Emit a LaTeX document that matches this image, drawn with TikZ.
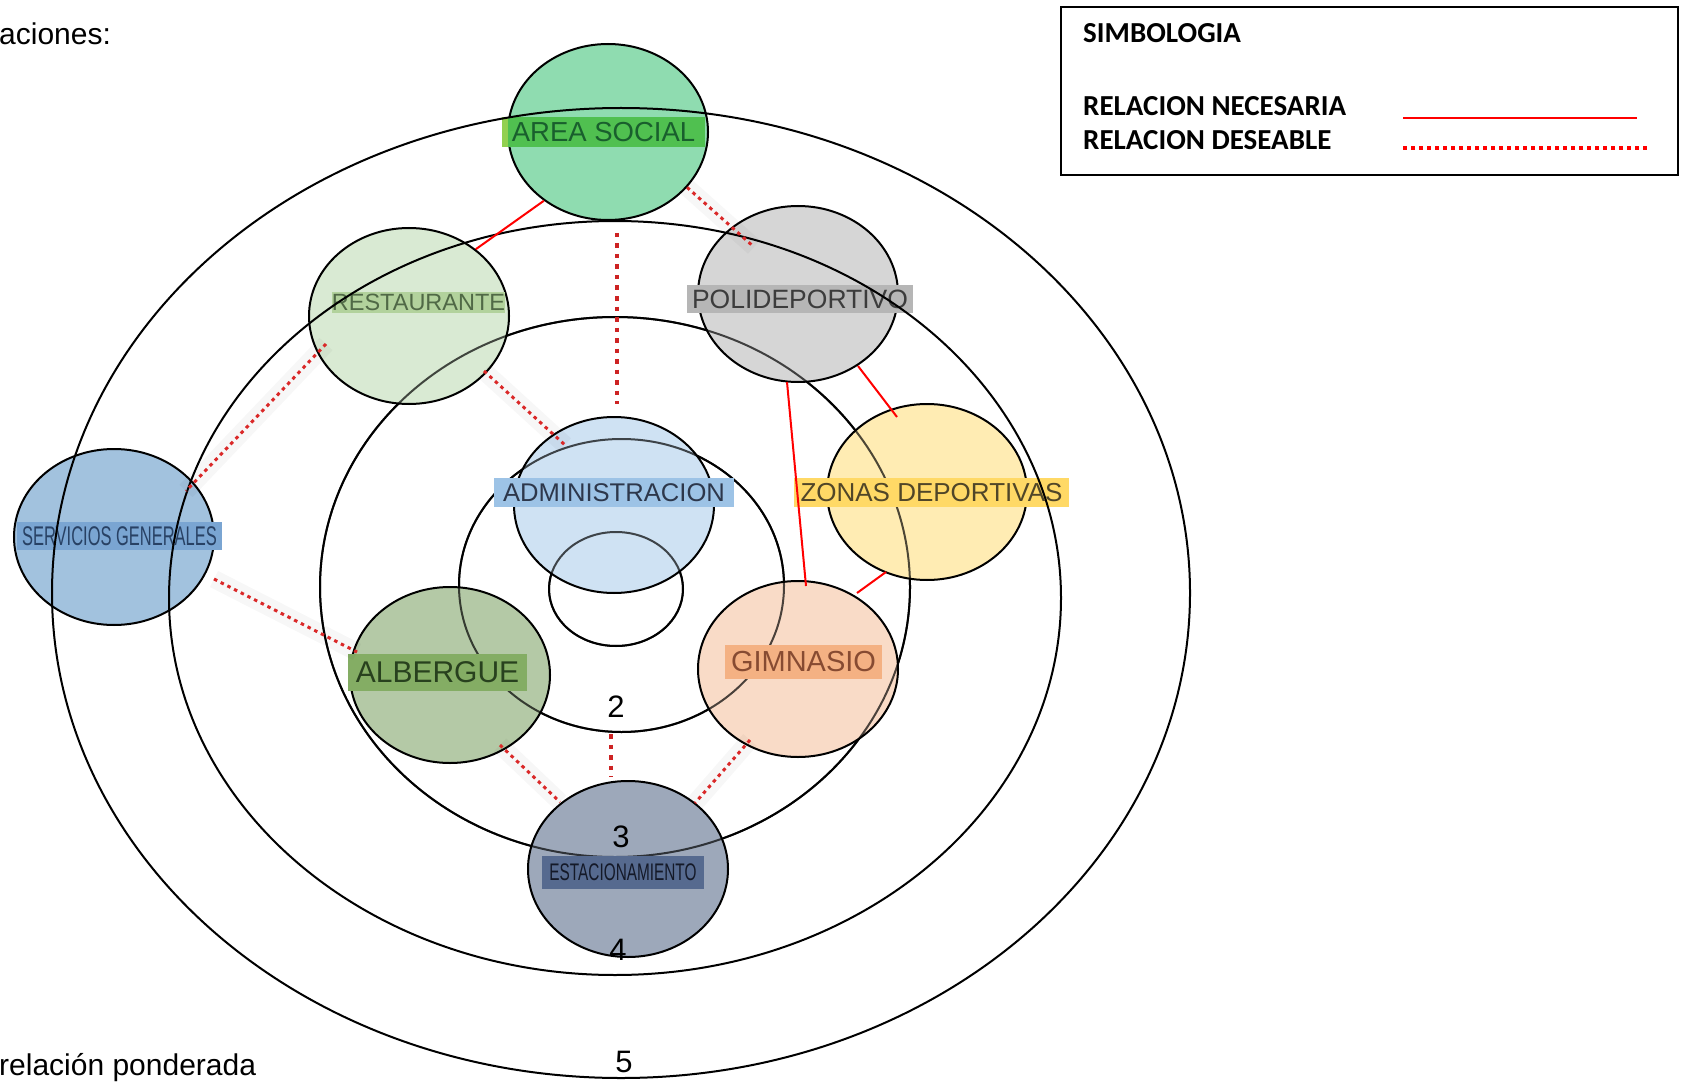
\documentclass[tikz,border=0pt]{standalone}
\usepackage{fontspec}
\usepackage{graphicx}
\setmainfont{Liberation Sans}
\newfontfamily\legendfont{Carlito}
\usetikzlibrary{shapes.geometric,calc}
\newcommand\myfs[1]{\fontsize{#1}{#1}\selectfont}

\definecolor{asfill}{RGB}{143,220,176}\definecolor{ashl}{RGB}{80,192,80}\definecolor{astxt}{RGB}{25,95,45}\definecolor{asstrip}{RGB}{146,208,80}
\definecolor{refill}{RGB}{217,234,211}\definecolor{rehl}{RGB}{178,210,156}\definecolor{retxt}{RGB}{80,105,70}
\definecolor{pofill}{RGB}{214,214,214}\definecolor{pohl}{RGB}{182,182,182}\definecolor{potxt}{RGB}{60,60,60}
\definecolor{zofill}{RGB}{255,236,179}\definecolor{zohl}{RGB}{255,217,102}\definecolor{zotxt}{RGB}{80,70,40}
\definecolor{adfill}{RGB}{207,226,243}\definecolor{adhl}{RGB}{157,195,230}\definecolor{adtxt}{RGB}{45,55,75}
\definecolor{sgfill}{RGB}{162,194,222}\definecolor{sghl}{RGB}{122,165,210}\definecolor{sgtxt}{RGB}{40,65,100}
\definecolor{alfill}{RGB}{180,201,166}\definecolor{alhl}{RGB}{132,173,100}\definecolor{altxt}{RGB}{40,65,30}
\definecolor{gifill}{RGB}{249,219,199}\definecolor{gihl}{RGB}{244,177,131}\definecolor{gitxt}{RGB}{135,75,50}
\definecolor{esfill}{RGB}{157,168,186}\definecolor{eshl}{RGB}{86,106,143}\definecolor{estxt}{RGB}{20,25,40}
\definecolor{desred}{RGB}{218,40,40}
\definecolor{thickred}{RGB}{205,35,35}

\begin{document}
\begin{tikzpicture}[x=1pt,y=-1pt,
  ring/.style={draw=black,line width=2pt},
  ghostring/.style={draw=black,line width=2pt,draw opacity=0.7},
  place/.style={ellipse,draw=black,line width=2pt,minimum width=200pt,minimum height=176pt,inner sep=0pt},
  lbl/.style={rectangle,inner sep=0pt},
  num/.style={anchor=base,inner sep=0pt,font=\myfs{31}},
  nec/.style={draw=red,line width=2pt},
  des/.style={draw=desred,line width=3pt,dash pattern=on 3.5pt off 4pt,
     preaction={draw=black,draw opacity=0.03,line width=18pt,solid}},
  desthick/.style={draw=thickred,line width=4.5pt,dash pattern=on 4.5pt off 6pt},
  legtxt/.style={anchor=base west,inner sep=0pt,font=\legendfont\bfseries\myfs{29}}
]
\useasboundingbox (0,0) rectangle (1686,1083);

% inner rings (below the places)
\draw[ring] (616,589) ellipse [x radius=67pt, y radius=57pt];
\draw[ring] (621.5,585.5) ellipse [x radius=162.5pt, y radius=146.5pt];
\draw[ring] (615,587) ellipse [x radius=295pt, y radius=270pt];

% places
\node[place,fill=asfill] (as) at (608,132) {};
\node[place,fill=refill] (rest) at (409,316) {};
\node[place,fill=pofill] (poli) at (798,294) {};
\node[place,fill=zofill] (zona) at (927,492) {};
\node[place,fill=adfill] (adm) at (614,505) {};
\node[place,fill=sgfill] (sg) at (114,537) {};
\node[place,fill=alfill] (alb) at (450,675) {};
\node[place,fill=gifill] (gim) at (798,669) {};
\node[place,fill=esfill] (est) at (628,869) {};

% inner rings showing through the places
\draw[ghostring] (616,589) ellipse [x radius=67pt, y radius=57pt];
\draw[ghostring] (621.5,585.5) ellipse [x radius=162.5pt, y radius=146.5pt];
\draw[ghostring] (615,587) ellipse [x radius=295pt, y radius=270pt];

% labels
\node[lbl,fill=ashl,minimum width=203pt,minimum height=30pt,text=astxt,font=\myfs{27.5}] (asl) at (603.5,132) {AREA SOCIAL};
\fill[asstrip] (502,117) rectangle (508,147);
\node[lbl,fill=rehl,minimum width=173pt,minimum height=21pt,text=retxt,font=\myfs{23.5}] (restl) at (418.5,302.5) {RESTAURANTE};
\node[lbl,fill=pohl,minimum width=226pt,minimum height=28pt,text=potxt,font=\myfs{26.5}] (polil) at (800,299) {POLIDEPORTIVO};
\node[lbl,fill=zohl,minimum width=275pt,minimum height=29pt,text=zotxt,font=\myfs{26}] (zonal) at (931.5,492.5) {ZONAS DEPORTIVAS};
\node[lbl,fill=adhl,minimum width=240pt,minimum height=29pt,text=adtxt,font=\myfs{25.6}] (adml) at (614,492.5) {ADMINISTRACION};
\node[lbl,fill=sghl,minimum width=205pt,minimum height=28pt,text=sgtxt,font=\myfs{27}] (sgl) at (119.5,536) {\scalebox{0.61}[1]{SERVICIOS GENERALES}};
\node[lbl,fill=alhl,minimum width=179pt,minimum height=37pt,text=altxt,font=\myfs{30}] (albl) at (437.5,672.5) {ALBERGUE};
\node[lbl,fill=gihl,minimum width=157pt,minimum height=34pt,text=gitxt,font=\myfs{29}] (giml) at (803.5,662) {GIMNASIO};
\node[lbl,fill=eshl,minimum width=162pt,minimum height=33pt,text=estxt,font=\myfs{24}] (estl) at (623,872.5) {\scalebox{0.64}[1]{ESTACIONAMIENTO}};

% outer rings (above the places)
\draw[ring] (615,598) ellipse [x radius=446pt, y radius=377pt];
\draw[ring] (621,593) ellipse [x radius=569pt, y radius=485pt];

% ring numbers
\node[num] (n2) at (616,717) {2};
\node[num] (n3) at (621,847) {3};
\node[num] (n4) at (618,960) {4};
\node[num] (n5) at (624,1072) {5};

% connectors
\draw[nec] (as.227) -- (rest.45);
\draw[des] (as.-35) -- ($(poli)+(-44,-47)$);
\draw[desthick] ($(as.south)+(9,12)$) -- ($(adm.north)+(3,-12)$);
\draw[des] ($(rest)+(-83,28)$) -- ($(sg)+(72,-46)$);
\draw[des] ($(rest)+(75,55)$) -- ($(adm)+(-49,-60)$);
\draw[nec] ($(poli)+(60,72)$) -- ($(zona)+(-30,-75)$);
\draw[nec] ($(poli)+(-11,88)$) -- ($(gim)+(8,-83)$);
\draw[nec] ($(zona)+(-41,80)$) -- ($(gim)+(59,-76)$);
\draw[des] ($(sg)+(100,42)$) -- ($(alb)+(-93,-23)$);
\draw[des] ($(alb)+(50,70)$) -- ($(est)+(-68,-67)$);
\draw[desthick] ($(est.north)+(-17,-46)$) -- ($(est.north)+(-17,-3)$);
\draw[des] ($(gim)+(-48,71)$) -- ($(est)+(67,-66)$);

% side texts
\node[anchor=base west,inner sep=0pt,font=\myfs{30}] (t1) at (-1,45) {aciones:};
\node[anchor=base west,inner sep=0pt,font=\myfs{30}] (t2) at (-1,1075) {relación ponderada};

% legend
\node[draw=black,line width=2pt,rectangle,inner sep=0pt,minimum width=617pt,minimum height=168pt] (leg) at (1369.5,91) {};
\node[legtxt] (lt0) at (1083,43) {SIMBOLOGIA};
\node[legtxt] (lt1) at (1083,116) {RELACION NECESARIA};
\node[legtxt] (lt2) at (1083,150) {RELACION DESEABLE};
\coordinate (ls1) at (1403,118);
\coordinate (le1) at (1637,118);
\coordinate (ls2) at (1403,148);
\coordinate (le2) at (1650,148);
\draw[draw=red,line width=2.7pt] (ls1) -- (le1);
\draw[draw=red,line width=3.5pt,dash pattern=on 3.5pt off 4.5pt] (ls2) -- (le2);
\end{tikzpicture}
\end{document}
